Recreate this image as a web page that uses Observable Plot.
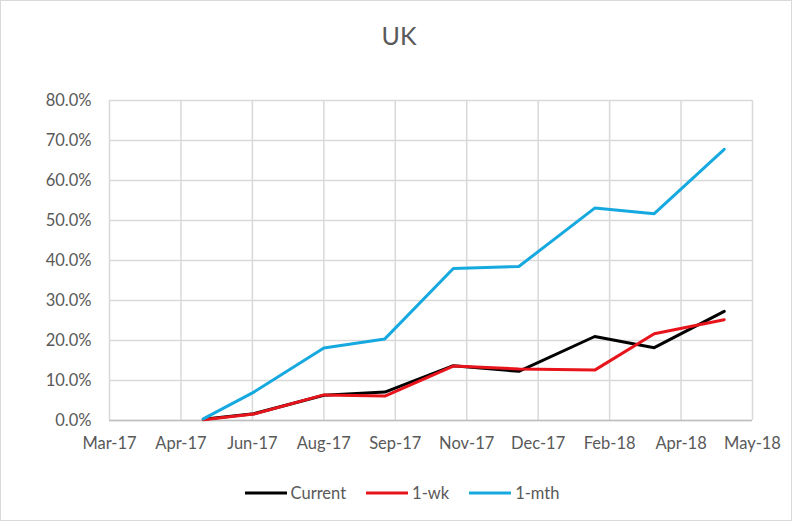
<!DOCTYPE html>
<html>
<head>
<meta charset="utf-8">
<script src="https://cdn.jsdelivr.net/npm/d3@7"></script>
<script src="https://cdn.jsdelivr.net/npm/@observablehq/plot@0.6"></script>
<style>
  html, body { margin: 0; padding: 0; background: #fff; }
  #chart { position: relative; width: 798px; height: 525px; font-family: Lato, "Open Sans", sans-serif; color: #595959; }
  #border { position: absolute; left: 0; top: 0; width: 790px; height: 519px; border: 1.5px solid #d9d9d9; }
  #title { position: absolute; left: 0; top: 20px; width: 798px; text-align: center; font-size: 25px; line-height: 30px; }
  #plot { position: absolute; left: 0; top: 70px; }
  #legend { position: absolute; left: 0; top: 483px; width: 798px; height: 20px; display: flex; justify-content: center; align-items: center; font-size: 16.5px; line-height: 20px; padding-left: 6px; box-sizing: border-box; }
  .item { display: flex; align-items: center; margin: 0 10px; }
  .item svg { margin-right: 4px; }
</style>
</head>
<body>
<div id="chart">
  <div id="border"></div>
  <div id="title">UK</div>
  <div id="plot"></div>
  <div id="legend"></div>
</div>
<script>
// ---- data ----
const dates = ["2017-05-15","2017-06-18","2017-08-04","2017-09-14","2017-10-30","2017-12-13","2018-02-02","2018-03-14","2018-04-30"];
const current = [0.003, 0.017, 0.063, 0.071, 0.137, 0.123, 0.210, 0.182, 0.273];
const oneWk   = [0.002, 0.016, 0.064, 0.061, 0.136, 0.129, 0.126, 0.217, 0.252];
const oneMth  = [0.004, 0.071, 0.181, 0.204, 0.380, 0.385, 0.531, 0.517, 0.678];
const seriesNames = ["Current", "1-wk", "1-mth"];
const seriesColors = ["#000000", "#e8141b", "#16a9e0"];
const xTickDates = ["2017-03-13","2017-04-30","2017-06-17","2017-08-04","2017-09-21","2017-11-08","2017-12-26","2018-02-12","2018-04-01","2018-05-19"];
const xTickLabels = ["Mar-17","Apr-17","Jun-17","Aug-17","Sep-17","Nov-17","Dec-17","Feb-18","Apr-18","May-18"];
const yTicks = [0, 0.1, 0.2, 0.3, 0.4, 0.5, 0.6, 0.7, 0.8];

// ---- build ----
const parse = d3.utcParse("%Y-%m-%d");
const xTicks = xTickDates.map(parse);
const labelMap = new Map(xTicks.map((d, i) => [+d, xTickLabels[i]]));
const valuesBySeries = [current, oneWk, oneMth];
const rows = [];
valuesBySeries.forEach((vals, s) => {
  vals.forEach((v, i) => rows.push({series: seriesNames[s], date: parse(dates[i]), value: v}));
});

const plot = Plot.plot({
  width: 798,
  height: 390,
  marginLeft: 109,
  marginRight: 46,
  marginTop: 30,
  marginBottom: 40,
  style: {fontFamily: "Lato, 'Open Sans', sans-serif", fontSize: "16.5px", color: "#595959", background: "transparent"},
  x: {type: "utc", domain: [xTicks[0], xTicks[xTicks.length - 1]]},
  y: {domain: [0, 0.8]},
  color: {domain: seriesNames, range: seriesColors},
  marks: [
    Plot.gridX(xTicks, {stroke: "#d9d9d9", strokeOpacity: 1, strokeWidth: 1.5}),
    Plot.gridY(yTicks, {stroke: "#d9d9d9", strokeOpacity: 1, strokeWidth: 1.5}),
    Plot.ruleY([0], {stroke: "#bfbfbf", strokeWidth: 1.5}),
    Plot.lineY(rows, {x: "date", y: "value", z: "series", stroke: "series", strokeWidth: 3, strokeLinejoin: "round"}),
    Plot.axisX(xTicks, {tickSize: 0, tickPadding: 17, tickFormat: d => labelMap.get(+d), label: null, fill: "#595959"}),
    Plot.axisY(yTicks, {tickSize: 0, tickPadding: 18, tickFormat: d3.format(".1%"), label: null, fill: "#595959"})
  ]
});
document.getElementById("plot").appendChild(plot);

// legend
const legend = document.getElementById("legend");
seriesNames.forEach((name, i) => {
  const item = document.createElement("div");
  item.className = "item";
  item.innerHTML = `<svg width="42" height="6"><line x1="0" x2="42" y1="3" y2="3" stroke="${seriesColors[i]}" stroke-width="3"/></svg><span>${name}</span>`;
  legend.appendChild(item);
});
</script>
</body>
</html>
